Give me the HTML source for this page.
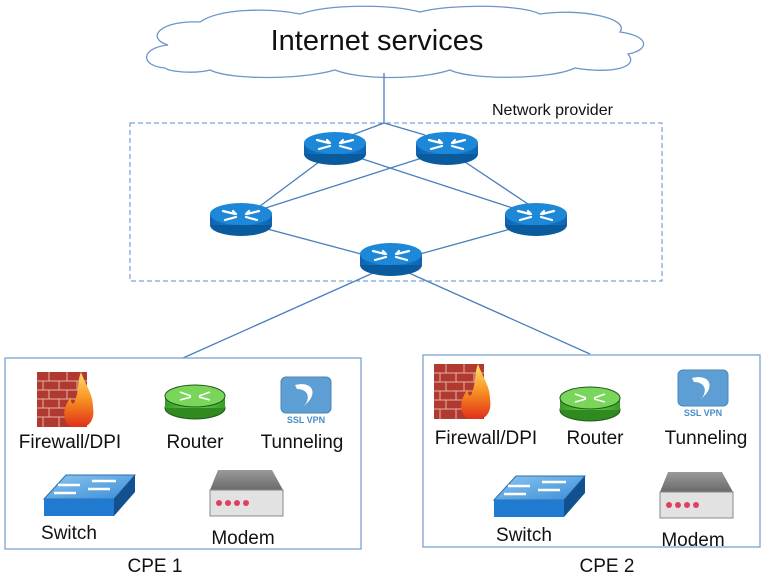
<!DOCTYPE html>
<html><head><meta charset="utf-8"><style>
html,body{margin:0;padding:0;background:#fff;}
svg{display:block;font-family:"Liberation Sans",sans-serif;}
</style></head><body>
<svg width="765" height="577" viewBox="0 0 765 577" xmlns="http://www.w3.org/2000/svg">
<defs>
<linearGradient id="rb" x1="0" x2="1"><stop offset="0" stop-color="#0f63b0"/><stop offset="0.5" stop-color="#1a86d8"/><stop offset="1" stop-color="#0f63b0"/></linearGradient>
<linearGradient id="gb" x1="0" x2="1"><stop offset="0" stop-color="#3a9a2a"/><stop offset="0.5" stop-color="#6cd04c"/><stop offset="1" stop-color="#3a9a2a"/></linearGradient>
<linearGradient id="fire" x1="0" y1="1" x2="0" y2="0"><stop offset="0" stop-color="#e0301a"/><stop offset="0.5" stop-color="#f89020"/><stop offset="1" stop-color="#ffe070"/></linearGradient>
<linearGradient id="sw" x1="0" y1="0" x2="1" y2="1"><stop offset="0" stop-color="#8cc4ee"/><stop offset="1" stop-color="#3a8ed8"/></linearGradient>
<linearGradient id="md" x1="0" y1="0" x2="0" y2="1"><stop offset="0" stop-color="#9a9a9a"/><stop offset="1" stop-color="#6a6a6a"/></linearGradient>
<g id="router">
 <ellipse cx="0" cy="6" rx="31" ry="11" fill="#0a5a9e"/>
 <rect x="-31" y="-5" width="62" height="11" fill="url(#rb)"/>
 <ellipse cx="0" cy="-5" rx="31" ry="11" fill="#1e88d8"/>
 <g stroke="#fff" stroke-width="2.2" fill="none" stroke-linecap="round">
  <path d="M-18,-8 L-6,-5 M-8,-8 L-5,-5 M6,-5 L18,-8 M8,-8 L5,-5 M-16,1 L-5,-2 M5,-2 L16,1"/>
 </g>
</g>
<g id="grouter">
 <ellipse cx="0" cy="8" rx="30" ry="11" fill="#2f8a20" stroke="#1d5a14"/>
 <rect x="-30" y="-4" width="60" height="12" fill="url(#gb)"/>
 <ellipse cx="0" cy="-4" rx="30" ry="11" fill="#7ad65a" stroke="#1d5a14"/>
 <g stroke="#fff" stroke-width="1.6" fill="none"><path d="M-15,-8 L-4,-4 M4,-4 L15,-8 M-15,0 L-4,-3 M4,-3 L15,0"/></g>
</g>
<g id="fw">
 <rect x="0" y="0" width="50" height="55" fill="#b03a30"/>
 <g stroke="#e8b0a8" stroke-width="1"><path d="M0,9H50M0,18H50M0,27H50M0,36H50M0,45H50"/>
 <path d="M12,0V9M30,0V9M6,9V18M22,9V18M40,9V18M12,18V27M30,18V27M6,27V36M22,27V36M40,27V36M12,36V45M30,36V45M6,45V55M22,45V55M40,45V55"/></g>
 <path d="M34,55 C24,48 26,35 34,25 C33,33 38,33 38,28 C42,20 40,10 44,0 C48,12 56,22 56,35 C58,48 52,55 44,55 Z" fill="url(#fire)"/>
</g>
<g id="ssl">
 <rect x="0" y="0" width="50" height="36" rx="5" fill="#5d9fd4" stroke="#4a86b8"/>
 <path d="M14,8 C30,4 36,14 28,24 L22,30 C30,22 28,12 16,12 Z" fill="#fff"/>
 <text x="25" y="46" font-size="9" font-weight="bold" fill="#4a8cc8" text-anchor="middle">SSL VPN</text>
</g>
<g id="switch">
 <path d="M0,24 L22,0 L91,0 L70,24 Z" fill="url(#sw)" stroke="#2a6eb0"/>
 <path d="M0,24 L70,24 L70,41 L0,41 Z" fill="#1f7ad0"/>
 <path d="M70,24 L91,0 L91,17 L70,41 Z" fill="#12508f"/>
 <g stroke="#fff" stroke-width="2.5" fill="none"><path d="M14,10H36M48,6H72M10,18H32M44,14H66"/></g>
</g>
<g id="modem">
 <path d="M0,20 L8,0 L62,0 L73,20 Z" fill="url(#md)"/>
 <rect x="0" y="20" width="73" height="26" fill="#e2e2e2" stroke="#888"/>
 <g fill="#e04060"><circle cx="9" cy="33" r="3"/><circle cx="18" cy="33" r="3"/><circle cx="27" cy="33" r="3"/><circle cx="36" cy="33" r="3"/></g>
</g>
</defs>

<!-- cloud -->
<path d="M165,68 C140,66 140,48 168,45 C145,38 160,20 200,22 C220,8 270,8 300,14 C330,4 390,4 420,12 C450,4 520,4 540,14 C580,8 630,18 620,32 C650,36 650,50 628,54 C640,68 610,74 575,68 C550,80 470,80 450,70 C420,80 360,80 335,70 C300,80 230,80 210,70 C195,74 170,72 165,68 Z" fill="#fff" stroke="#6a96c8" stroke-width="1.3"/>
<text x="377" y="50" font-size="29" text-anchor="middle" fill="#111">Internet services</text>

<!-- connectors -->
<g stroke="#4a7fbd" stroke-width="1.3" fill="none">
 <path d="M384,73 V123 L352,135 M384,123 L425,135"/>
 <path d="M335,150 L252,212 M335,150 L525,212 M447,150 L250,213 M447,150 L540,212"/>
 <path d="M241,222 L391,262 M536,222 L391,262"/>
 <path d="M391,265 L183,358 M391,265 L590,354"/>
</g>
<rect x="130" y="123" width="532" height="158" fill="none" stroke="#5b8fd0" stroke-dasharray="5,3" stroke-width="1"/>
<text x="492" y="115" font-size="16" fill="#111">Network provider</text>

<use href="#router" x="335" y="148"/>
<use href="#router" x="447" y="148"/>
<use href="#router" x="241" y="219"/>
<use href="#router" x="536" y="219"/>
<use href="#router" x="391" y="259"/>

<!-- CPE boxes -->
<rect x="5" y="358" width="356" height="191" fill="#fff" stroke="#7ba3cf" stroke-width="1.3"/>
<rect x="423" y="355" width="337" height="192" fill="#fff" stroke="#7ba3cf" stroke-width="1.3"/>

<g font-size="19" fill="#111">
<use href="#fw" x="37" y="372"/>
<use href="#grouter" x="195" y="400"/>
<use href="#ssl" x="281" y="377"/>
<text x="70" y="448" text-anchor="middle">Firewall/DPI</text>
<text x="195" y="448" text-anchor="middle">Router</text>
<text x="302" y="448" text-anchor="middle">Tunneling</text>
<use href="#switch" x="44" y="475"/>
<use href="#modem" x="210" y="470"/>
<text x="69" y="539" text-anchor="middle">Switch</text>
<text x="243" y="544" text-anchor="middle">Modem</text>
<text x="155" y="572" text-anchor="middle">CPE 1</text>

<use href="#fw" x="434" y="364"/>
<use href="#grouter" x="590" y="402"/>
<use href="#ssl" x="678" y="370"/>
<text x="486" y="444" text-anchor="middle">Firewall/DPI</text>
<text x="595" y="444" text-anchor="middle">Router</text>
<text x="706" y="444" text-anchor="middle">Tunneling</text>
<use href="#switch" x="494" y="476"/>
<use href="#modem" x="660" y="472"/>
<text x="524" y="541" text-anchor="middle">Switch</text>
<text x="693" y="546" text-anchor="middle">Modem</text>
<text x="607" y="572" text-anchor="middle">CPE 2</text>
</g>
</svg>
</body></html>
